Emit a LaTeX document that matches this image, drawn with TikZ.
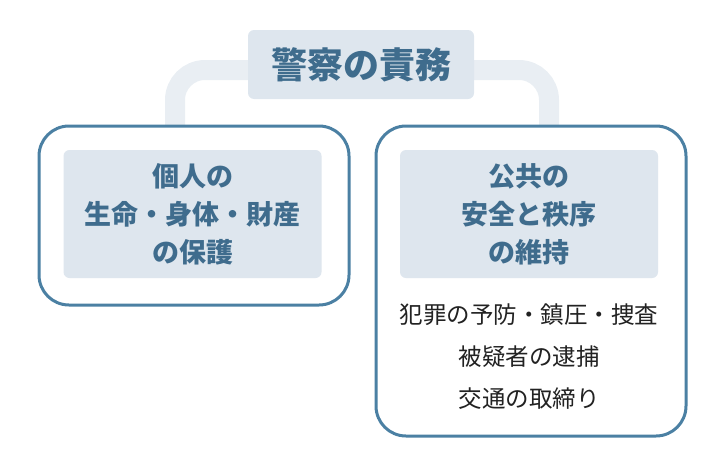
\documentclass[tikz,border=0pt]{standalone}
\usepackage{fontspec}
\newfontfamily\jpfont{Noto Sans CJK JP}
\usetikzlibrary{positioning,backgrounds}

\definecolor{dutyblue}{HTML}{3F6C8D}
\definecolor{frameblue}{HTML}{4B80A3}
\definecolor{panelfill}{HTML}{DEE6EE}
\definecolor{bandgray}{HTML}{E9EEF3}
\definecolor{tasktext}{HTML}{222222}

\tikzset{
    outerbox/.style={draw=frameblue, line width=3pt, fill=white, rounded corners=30pt,
        minimum width=310pt, inner sep=0pt},
    panel/.style={fill=panelfill, rounded corners=6pt, minimum width=258pt, minimum height=128pt,
        inner sep=0pt, align=center, text=dutyblue,
        font=\jpfont\bfseries\fontsize{27}{38}\selectfont},
    band/.style={bandgray, line width=20pt, rounded corners=30pt}
}

\begin{document}
\begin{tikzpicture}[x=1pt, y=-1pt]
    \useasboundingbox (0, 0) rectangle (720, 458);

    % 見出し
    \node[fill=panelfill, rounded corners=6pt, minimum width=226pt, minimum height=69pt,
        text=dutyblue, font=\jpfont\bfseries\fontsize{36}{40}\selectfont]
        (title) at (361, 64.5) {警察の責務};

    % 外枠
    \node[outerbox, minimum height=179pt] (lbox) at (194, 215.5) {};
    \node[outerbox, minimum height=310pt] (rbox) at (531, 281) {};

    % 内側のパネル
    \node[panel] (lpanel) at (192.5, 214) {個人の\\生命・身体・財産\\の保護};
    \node[panel] (rpanel) at (529, 214) {公共の\\安全と秩序\\の維持};

    % 具体的な内容
    \node[below=22pt of rpanel, align=center, text=tasktext,
        font=\jpfont\fontsize{23.5}{42}\selectfont]
        (tasks) {犯罪の予防・鎮圧・捜査\\被疑者の逮捕\\交通の取締り};

    % 連結の帯
    \coordinate (lfoot) at (175, 126);
    \coordinate (rfoot) at (549, 126);
    \begin{scope}[on background layer]
        \draw[band] ([yshift=-5.5pt]title.center) -| (lfoot);
        \draw[band] ([yshift=-5.5pt]title.center) -| (rfoot);
    \end{scope}
\end{tikzpicture}
\end{document}
